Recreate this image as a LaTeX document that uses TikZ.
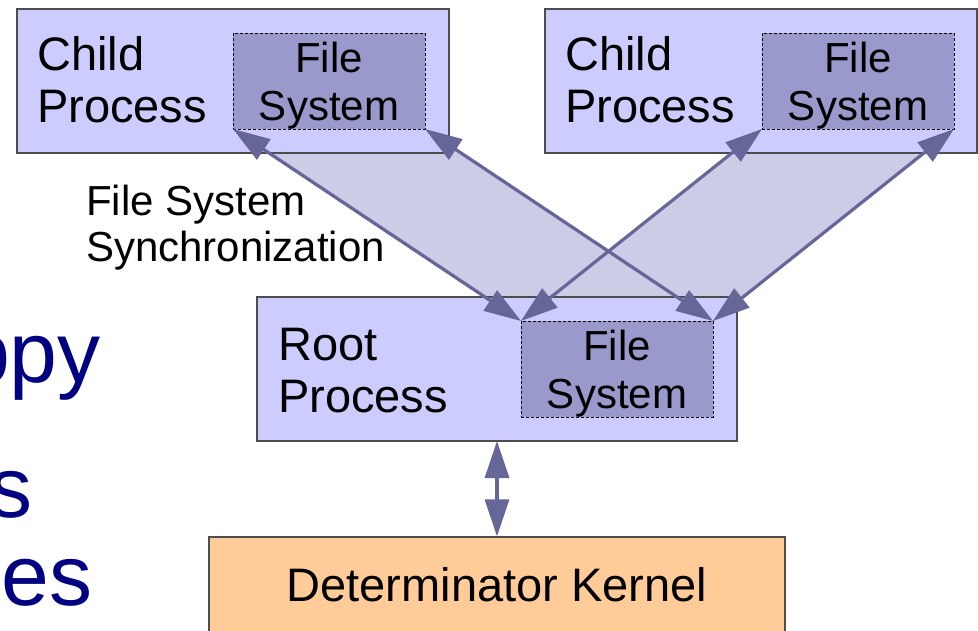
\documentclass[tikz,border=0pt]{standalone}
\usepackage{fontspec}
\setmainfont{Liberation Sans}
\usetikzlibrary{arrows.meta,backgrounds}
\definecolor{boxfill}{HTML}{CCCCFF}
\definecolor{fsfill}{HTML}{9999CC}
\definecolor{arrowcol}{HTML}{666699}
\definecolor{bandfill}{HTML}{CCCCE6}
\definecolor{kernfill}{HTML}{FFCC99}
\definecolor{navyblue}{HTML}{000080}
\definecolor{boxline}{HTML}{4D4D4D}
\newcommand{\fshigh}{\rule{0pt}{39pt}}
\begin{document}
\begin{tikzpicture}[x=1pt,y=-1pt,
  procbox/.style={draw=boxline,line width=1.2pt,fill=boxfill,minimum width=#1,minimum height=144pt,inner sep=0pt,outer sep=0pt},
  fsbox/.style={draw=black,line width=0.9pt,dash pattern=on 3pt off 2pt,fill=fsfill,minimum width=192pt,minimum height=96pt,inner sep=0pt,outer sep=0pt,align=center,font=\fontsize{42}{48}\selectfont},
  proclabel/.style={anchor=base west,align=left,inner sep=0pt,font=\fontsize{47}{52}\selectfont},
  bigblue/.style={anchor=base east,inner sep=0pt,text=navyblue,font=\fontsize{86}{90}\selectfont},
  syncarrow/.style={draw=arrowcol,line width=3.2pt,{Triangle[length=37pt,width=24pt]}-{Triangle[length=37pt,width=24pt]}}
]
\useasboundingbox (0,0) rectangle (978,631);
\clip (0,0) rectangle (978,631);

% left (background) slide text
\node[bigblue] (t1) at (101,382) {ppy};
\node[bigblue] (t2) at (33,517) {s};
\node[bigblue] (t3) at (93,605) {es};

% process boxes
\node[procbox=432pt] (lc) at (233,81) {};
\node[fsbox] (lfs) at (329,81) {\fshigh File\\System};
\node[proclabel] (lcl) at (37,123) {Child\\Process};

\node[procbox=432pt] (rc) at (761,81) {};
\node[fsbox] (rfs) at (858,81) {\fshigh File\\System};
\node[proclabel] (rcl) at (565,123) {Child\\Process};

\node[procbox=480pt] (root) at (497,369) {};
\node[fsbox] (rootfs) at (617,369) {\fshigh File\\System};
\node[proclabel] (rootl) at (278,412) {Root\\Process};

\node[anchor=base west,align=left,inner sep=0pt,font=\fontsize{42}{47}\selectfont] (sync) at (86,262) {File System\\Synchronization};

\node[draw=boxline,line width=1.2pt,fill=kernfill,minimum width=576pt,minimum height=96pt,inner sep=0pt,font=\fontsize{47}{52}\selectfont] (kern) at (497,585) {Determinator Kernel};

\begin{scope}[on background layer]
\fill[white] (0,0) rectangle (978,631);
\fill[bandfill] (lfs.south west) -- (lfs.south east) -- (rootfs.north east) -- (rootfs.north west) -- cycle;
\fill[bandfill] (rfs.south west) -- (rfs.south east) -- (rootfs.north east) -- (rootfs.north west) -- cycle;
\end{scope}

\draw[syncarrow] (lfs.south west) -- (rootfs.north west);
\draw[syncarrow] (lfs.south east) -- (rootfs.north east);
\draw[syncarrow] (rfs.south west) -- (rootfs.north west);
\draw[syncarrow] (rfs.south east) -- (rootfs.north east);
\draw[syncarrow] (root.south) -- (kern.north);
\end{tikzpicture}
\end{document}
